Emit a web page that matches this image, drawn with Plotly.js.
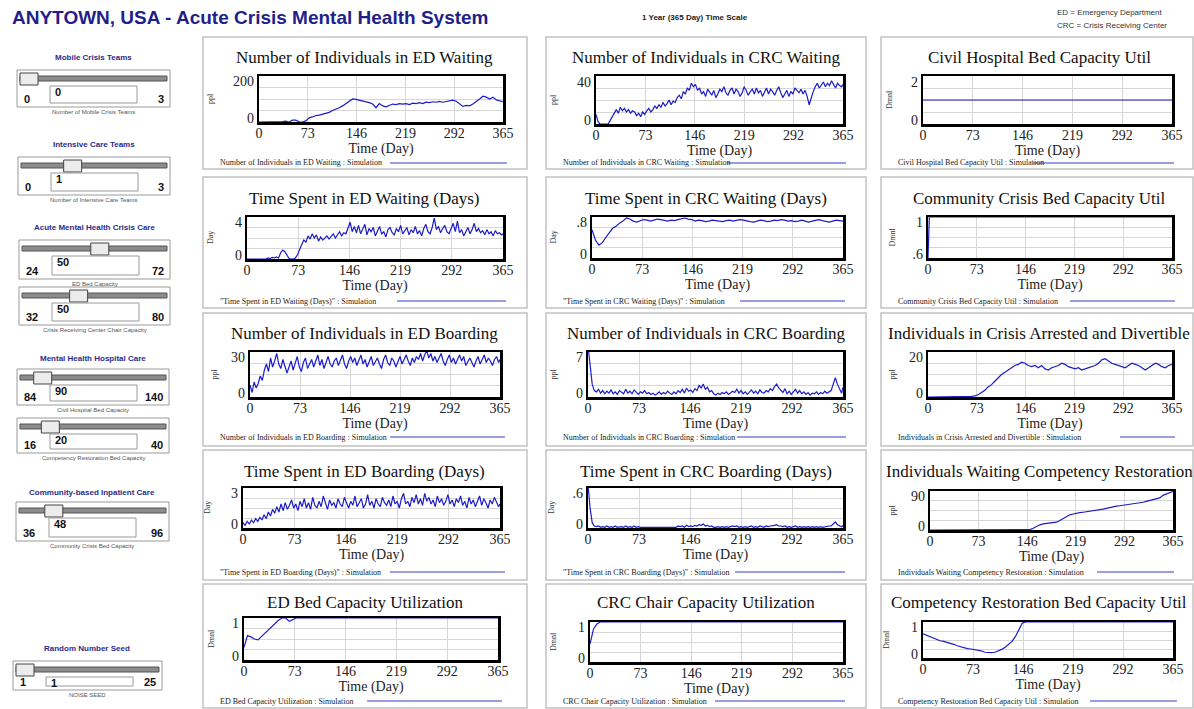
<!DOCTYPE html>
<html><head><meta charset="utf-8">
<script src="https://cdn.plot.ly/plotly-3.0.1.min.js"></script>
<style>html,body{margin:0;padding:0;background:#fff;}#chart{width:1194px;height:709px;}</style>
</head><body><div id="chart"></div>
<script>
// ================= DATA =================
const dayTicks = [0, 73, 146, 219, 292, 365];

// Number of Individuals in ED Waiting (every 5 days)
const edWaiting = [0,0,0,0,0,0,0,2,4,0,
 8,8,1,0,5,18,22,28,30,33,
 38,42,50,55,62,70,80,92,100,98,
 95,90,86,84,78,62,80,70,66,72,
 78,76,80,78,80,76,82,80,84,80,
 86,84,88,86,90,86,88,92,95,90,
 80,68,72,70,78,88,100,112,108,100,
 108,96,92,88];
// Number of Individuals in CRC Waiting (every 3 days)
const crcWaiting = [8,2,0,0,0,0,0,3,6,10,
 12,9,14,11,13,10,12,9,11,10,
 7,9,6,10,8,11,13,10,12,15,
 13,16,14,18,15,17,20,16,19,18,
 22,24,21,27,25,30,28,34,31,33,
 28,30,25,27,23,29,26,24,28,22,
 25,29,27,31,26,24,28,30,25,29,
 27,23,26,31,28,24,27,29,25,30,
 26,28,23,27,30,25,29,27,24,28,
 31,26,22,25,28,23,27,25,30,28,
 26,29,25,28,23,16,22,27,31,34,
 30,33,35,31,34,32,36,33,30,34,
 32,31,33];
// Civil Hospital Bed Capacity Util (every 5 days)
const civilUtil = [1,1,1,1,1,0.99,1,1,1,1,
 1,1,0.99,1,1,1,1,1,1,0.99,
 1,1,1,1,1,1,1,0.99,1,1,
 1,1,1,1,0.99,1,1,1,1,1,
 1,0.99,1,1,1,1,1,1,0.99,1,
 1,1,1,1,1,1,0.99,1,1,1,
 1,1,1,0.99,1,1,1,1,1,1,
 1,0.99,1,1];
// Time Spent in ED Waiting (Days) (every 3 days)
const edTimeWait = [0,0,0,0,0,0,0,0,0.05,0,
 0.1,0.05,0.15,0.1,0.2,0.1,0.6,0.85,0.7,0.3,
 0.05,0,0,0.1,0.4,0.9,1.4,1.8,1.6,2.2,
 1.9,2.4,2.0,2.3,1.7,2.1,1.8,2.0,2.2,1.9,
 2.1,2.4,2.0,2.3,2.6,2.2,2.5,2.4,2.9,3.5,
 2.6,3.1,2.5,3.2,2.4,2.8,3.3,2.3,2.9,2.6,
 3.0,2.2,2.7,3.1,2.4,2.6,2.1,2.8,3.0,2.5,
 2.3,2.9,2.6,3.2,2.4,2.7,3.0,2.3,2.8,2.5,
 3.1,2.4,2.7,2.2,2.9,3.3,2.6,2.4,3.0,3.9,
 2.8,3.1,2.5,2.9,3.2,2.6,2.4,2.9,3.4,2.6,
 3.6,2.5,2.8,2.2,2.6,3.0,2.4,2.8,3.4,2.6,
 2.9,2.5,2.7,2.3,2.8,2.4,2.6,2.2,2.7,2.4,
 2.5,2.3,2.4];
// Time Spent in CRC Waiting (Days) (every 5 days)
const crcTimeWait = [0.55,0.35,0.25,0.3,0.4,0.5,0.58,0.62,0.68,0.72,
 0.78,0.76,0.72,0.7,0.72,0.75,0.74,0.72,0.74,0.76,
 0.75,0.73,0.72,0.74,0.73,0.75,0.77,0.78,0.76,0.75,
 0.72,0.74,0.73,0.71,0.72,0.74,0.73,0.72,0.71,0.73,
 0.74,0.72,0.73,0.75,0.74,0.72,0.71,0.7,0.72,0.74,
 0.73,0.71,0.72,0.74,0.73,0.75,0.74,0.72,0.73,0.71,
 0.72,0.74,0.72,0.7,0.72,0.74,0.75,0.73,0.72,0.7,
 0.72,0.74,0.73,0.72];
// Community Crisis Bed Capacity Util
const commUtilDays = [0,1,2,73,146,219,292,365];
const commUtil = [0.6,0.9,1,1,1,1,1,1];
// Number of Individuals in ED Boarding (every 3 days)
const edBoarding = [8,3,10,6,9,14,11,18,22,17,
 26,20,24,29,22,19,25,21,16,20,
 24,18,22,27,20,17,23,26,19,22,
 25,20,24,28,21,25,19,23,27,22,
 20,24,26,21,25,28,22,19,24,27,
 23,26,21,24,28,22,25,20,23,27,
 21,24,26,22,19,25,28,23,21,26,
 24,20,23,27,22,25,28,24,21,26,
 23,27,25,29,24,28,31,26,29,24,
 27,23,26,29,24,21,25,28,23,26,
 22,25,28,24,27,21,24,26,23,20,
 24,27,22,25,28,23,26,24,21,25,
 27,23,25];
// Number of Individuals in CRC Boarding (every 3 days)
const crcBoarding = [8,5,2,1,0.8,1.2,0.6,1,0.5,0.9,
 0.6,1.1,0.5,0.8,0.4,1,0.7,0.5,1.2,0.6,
 0.9,0.5,1.1,0.7,0.4,0.8,0.6,1,0.5,0.7,
 0.4,0.6,0.3,0.5,0.8,0.4,0.7,0.5,0.9,0.6,
 0.4,0.8,0.5,1,0.7,1.2,0.6,1.4,0.9,1.1,
 0.7,1.3,1.0,1.8,1.4,2.0,1.2,1.5,0.8,1.0,
 0.5,0.3,0.6,0.4,0.7,0.5,0.8,0.4,0.6,0.9,
 0.7,1.2,0.6,1.0,0.5,0.8,0.4,0.7,1.1,0.6,
 0.9,0.5,1.1,0.7,0.6,1.0,0.8,1.3,1.0,1.6,
 2.0,1.4,1.1,0.7,1.3,0.5,0.9,0.4,0.8,1.2,
 0.6,1.0,0.5,0.8,0.4,0.7,0.3,0.6,0.5,0.8,
 0.4,0.7,0.5,0.9,0.6,0.8,1.0,2.0,3.0,2.0,
 1.2,0.6,1.5];
// Individuals in Crisis Arrested and Divertible (every 5 days)
const arrested = [0,0,0,0,0,0,0,0,0,0,
 0,0,0,0.3,0.5,1,2,3,4.5,5.5,
 7,8.5,10,11,12,13,14,14.5,15.5,15,
 14,13.5,14,13,14,12.5,12,13,13.5,14,
 15,14.5,13.5,13,12.5,13,12,12.5,13,13.5,
 14,15,16.5,17,16,15,14.5,14,13.5,13,
 14,15,14.5,14,13,12,13,14,15,14.5,
 13.5,13,14,14.5];
// Time Spent in ED Boarding (Days) (every 3 days)
const edTimeBoard = [0.4,0.2,0.5,0.3,0.6,0.4,0.7,0.5,0.8,0.6,
 1.0,0.7,1.2,0.9,1.4,1.1,1.6,1.2,1.8,1.3,
 1.9,1.4,1.7,2.1,1.5,1.8,1.3,2.0,1.6,2.2,
 1.5,1.9,1.4,2.3,1.7,1.5,2.0,1.6,2.4,1.8,
 1.4,2.1,1.7,1.9,1.5,2.2,1.8,1.6,2.3,1.9,
 1.5,2.0,1.7,2.4,1.6,1.9,2.2,1.5,1.8,2.5,
 1.7,2.0,1.5,2.2,1.8,1.6,2.3,1.9,1.7,2.1,
 1.6,2.4,1.8,2.0,1.5,2.2,2.6,1.8,2.0,1.6,
 2.3,1.9,2.5,1.8,2.2,1.7,2.6,2.0,2.3,1.8,
 2.1,1.6,2.4,1.9,2.2,1.7,2.0,2.5,1.8,2.1,
 1.6,2.2,1.9,2.4,1.7,2.0,1.5,2.3,1.8,2.1,
 1.6,2.0,2.4,1.7,2.2,1.9,1.5,2.1,1.8,2.3,
 1.9,1.6,1.8];
// Time Spent in CRC Boarding (Days) (every 3 days)
const crcTimeBoard = [0.65,0.3,0.08,0.03,0.02,0.03,0.01,0.02,0.01,0.03,
 0.01,0.02,0.01,0.03,0.01,0.02,0.02,0.01,0.03,0.01,
 0.02,0.01,0.03,0.01,0.02,0.01,0.01,0.02,0.01,0.02,
 0.01,0.02,0.01,0.01,0.02,0.01,0.02,0.01,0.01,0.02,
 0.01,0.02,0.01,0.03,0.02,0.03,0.01,0.04,0.02,0.03,
 0.02,0.04,0.03,0.05,0.04,0.06,0.03,0.04,0.02,0.03,
 0.01,0.01,0.02,0.01,0.02,0.01,0.02,0.01,0.02,0.03,
 0.02,0.03,0.01,0.02,0.01,0.02,0.01,0.02,0.03,0.01,
 0.02,0.01,0.03,0.02,0.01,0.03,0.02,0.03,0.03,0.04,
 0.05,0.03,0.03,0.02,0.03,0.01,0.02,0.01,0.02,0.03,
 0.01,0.02,0.01,0.02,0.01,0.02,0.01,0.02,0.01,0.02,
 0.01,0.02,0.01,0.02,0.02,0.03,0.03,0.06,0.09,0.05,
 0.03,0.02,0.04];
// Individuals Waiting Competency Restoration (every 5 days)
const waitingCR = [0,0,0,0,0,0,0,0,0,0,
 0,0,0,0,0,0,0,0,0,0,
 0,0,0,0,0,0,0,0,0,0,
 1,4,8,12,14,15,15,16,18,22,
 27,32,35,37,39,40,41,42,43,45,
 46,47,48,50,52,53,55,56,57,58,
 59,60,61,62,64,66,68,70,72,74,
 80,83,86,89];
// ED Bed Capacity Utilization (every 5 days)
const edBedUtil = [0.3,0.58,0.55,0.5,0.48,0.56,0.62,0.7,0.8,0.88,
 0.95,1,1,0.92,0.97,1,1,1,0.99,1,
 1,1,1,0.99,1,1,1,1,0.99,1,
 1,1,1,1,0.99,1,1,1,1,1,
 0.99,1,1,1,1,0.99,1,1,1,1,
 1,1,0.99,1,1,1,1,1,1,0.99,
 1,1,1,1,1,0.99,1,1,1,1,
 0.99,1,1,1];
// CRC Chair Capacity Utilization (every 5 days)
const crcChairUtil = [0.45,0.82,0.95,1,1,1,0.99,1,1,1,
 1,1,0.99,1,1,1,1,1,0.99,1,
 1,1,1,1,1,0.99,1,1,1,1,
 1,1,0.99,1,1,1,1,1,1,0.99,
 1,1,1,1,0.99,1,1,1,1,1,
 1,0.99,1,1,1,1,1,1,0.99,1,
 1,1,1,1,1,0.99,1,1,1,1,
 1,1,0.99,1];
// Competency Restoration Bed Capacity Util (every 5 days)
const crBedUtil = [0.67,0.63,0.58,0.54,0.5,0.48,0.46,0.44,0.42,0.38,
 0.34,0.31,0.28,0.26,0.25,0.24,0.23,0.2,0.16,0.15,
 0.15,0.16,0.19,0.24,0.3,0.38,0.46,0.6,0.8,0.97,
 1,1,1,1,1,1,1,1,1,1,
 1,1,1,1,1,1,1,1,1,1,
 1,1,1,1,1,1,1,1,1,1,
 1,1,1,1,1,1,1,1,1,1,
 1,1,1,1];

// Slider controls
const sliderTitles = ['Mobile Crisis Teams','Intensive Care Teams','Acute Mental Health Crisis Care','','Mental Health Hospital Care','','Community-based Inpatient Care','Random Number Seed'];
const sliderLabels = ['Number of Mobile Crisis Teams','Number of Intensive Care Teams','ED Bed Capacity','Crisis Receiving Center Chair Capacity','Civil Hospital Bed Capacity','Competency Restoration Bed Capacity','Community Crisis Bed Capacity','NOISE SEED'];
const sliderValues = [0,1,50,50,90,20,48,1];
const sliderMins = [0,0,24,32,84,16,36,1];
const sliderMaxs = [3,3,72,80,140,40,96,25];

// ================= LAYOUT =================
const W = 1194, H = 709;
const X = v => v / W, Y = v => 1 - v / H;
const SERIF = '"Liberation Serif", "Times New Roman", serif';
const SANS = '"Liberation Sans", Arial, sans-serif';
const LINE = '#1c1cc8';
const days = (arr, step) => arr.map((_, i) => Math.min(i * step, 365));

const charts = [
 {t:'Number of Individuals in ED Waiting', leg:'Number of Individuals in ED Waiting : Simulation', u:'ppl', x:days(edWaiting,5), y:edWaiting, r:[0,200], lab:['0','200'], p:[259,76,503,122], ytx:210, ll:[390,507]},
 {t:'Number of Individuals in CRC Waiting', leg:'Number of Individuals in CRC Waiting : Simulation', u:'ppl', x:days(crcWaiting,3), y:crcWaiting, r:[0,40], lab:['0','40'], p:[596,76,843,124], ytx:553, ll:[727,846]},
 {t:'Civil Hospital Bed Capacity Util', leg:'Civil Hospital Bed Capacity Util : Simulation', u:'Dmnl', x:days(civilUtil,5), y:civilUtil, r:[0,2], lab:['0','2'], p:[923,76,1172,124], ytx:889, ll:[1033,1174]},
 {t:'Time Spent in ED Waiting (Days)', leg:'"Time Spent in ED Waiting (Days)" : Simulation', u:'Day', x:days(edTimeWait,3), y:edTimeWait, r:[0,4], lab:['0','4'], p:[247,217,503,259], ytx:211, ll:[397,506]},
 {t:'Time Spent in CRC Waiting (Days)', leg:'"Time Spent in CRC Waiting (Days)" : Simulation', u:'Day', x:days(crcTimeWait,5), y:crcTimeWait, r:[0,0.8], lab:['0','.8'], p:[592,217,843,258], ytx:553, ll:[740,845]},
 {t:'Community Crisis Bed Capacity Util', leg:'Community Crisis Bed Capacity Util : Simulation', u:'Dmnl', x:commUtilDays, y:commUtil, r:[0.6,1], lab:['.6','1'], p:[928,217,1172,258], ytx:892, ll:[1070,1175]},
 {t:'Number of Individuals in ED Boarding', leg:'Number of Individuals in ED Boarding : Simulation', u:'ppl', x:days(edBoarding,3), y:edBoarding, r:[0,30], lab:['0','30'], p:[250,352,500,397], ytx:214, ll:[390,505]},
 {t:'Number of Individuals in CRC Boarding', leg:'Number of Individuals in CRC Boarding : Simulation', u:'ppl', x:days(crcBoarding,3), y:crcBoarding, r:[0,7], lab:['0','7'], p:[588,352,843,397], ytx:553, ll:[737,846]},
 {t:'Individuals in Crisis Arrested and Divertible', leg:'Individuals in Crisis Arrested and Divertible : Simulation', u:'ppl', x:days(arrested,5), y:arrested, r:[0,20], lab:['0','20'], p:[928,352,1172,397], ytx:892, ll:[1120,1175]},
 {t:'Time Spent in ED Boarding (Days)', leg:'"Time Spent in ED Boarding (Days)" : Simulation', u:'Day', x:days(edTimeBoard,3), y:edTimeBoard, r:[0,3], lab:['0','3'], p:[243,488,500,528], ytx:207, ll:[390,505]},
 {t:'Time Spent in CRC Boarding (Days)', leg:'"Time Spent in CRC Boarding (Days)" : Simulation', u:'Day', x:days(crcTimeBoard,3), y:crcTimeBoard, r:[0,0.6], lab:['0','.6'], p:[588,488,843,528], ytx:551, ll:[735,845]},
 {t:'Individuals Waiting Competency Restoration', leg:'Individuals Waiting Competency Restoration : Simulation', u:'ppl', x:days(waitingCR,5), y:waitingCR, r:[0,90], lab:['0','90'], p:[930,491,1173,530], ytx:892, ll:[1097,1174]},
 {t:'ED Bed Capacity Utilization', leg:'ED Bed Capacity Utilization : Simulation', u:'Dmnl', x:days(edBedUtil,5), y:edBedUtil, r:[0,1], lab:['0','1'], p:[244,618,498,660], ytx:211, ll:[367,502]},
 {t:'CRC Chair Capacity Utilization', leg:'CRC Chair Capacity Utilization : Simulation', u:'Dmnl', x:days(crcChairUtil,5), y:crcChairUtil, r:[0,1], lab:['0','1'], p:[590,622,843,662], ytx:553, ll:[715,845]},
 {t:'Competency Restoration Bed Capacity Util', leg:'Competency Restoration Bed Capacity Util : Simulation', u:'Dmnl', x:days(crBedUtil,5), y:crBedUtil, r:[0,1], lab:['0','1'], p:[923,622,1173,658], ytx:886, ll:[1090,1177]}
];
const colX = [[203,527],[546,866],[881,1193]];
const rowY = [[37,169],[177,308],[313,446],[450,580],[584,708]];
const titleY = [58,198,334,471,602];
const legendY = [163,301,437,572,701];
const titleX = [365,706,1039];
const legendX = [218,561,896];

const traces = [];
const layout = {
  width: W, height: H, margin: {l:0,r:0,t:0,b:0},
  paper_bgcolor: '#fff', plot_bgcolor: '#fff', showlegend: false,
  shapes: [], annotations: []
};
const ann = (x, y, text, o) => layout.annotations.push(Object.assign({
  xref:'paper', yref:'paper', x:X(x), y:Y(y), text, showarrow:false,
  xanchor:'center', yanchor:'middle', font:{family:SANS, size:8, color:'#222'}
}, o || {}));
const rect = (x0, y0, x1, y1, o) => layout.shapes.push(Object.assign({
  type:'rect', xref:'paper', yref:'paper', x0:X(x0), x1:X(x1), y0:Y(y1), y1:Y(y0),
  line:{color:'#999', width:1}, fillcolor:'#fff', layer:'below'
}, o || {}));

charts.forEach((c, i) => {
  const k = i === 0 ? '' : String(i + 1);
  const col = i % 3, row = Math.floor(i / 3);
  const [x0, y0, x1, y1] = c.p;
  rect(colX[col][0], rowY[row][0], colX[col][1], rowY[row][1], {line:{color:'#c2c2c2', width:1.5}});
  const q = (c.r[1] - c.r[0]) / 4;
  layout['xaxis' + k] = {
    domain:[X(x0), X(x1)], anchor:'y' + k, range:[0, 365], tickvals:dayTicks,
    showgrid:true, gridcolor:'#d6d6d6', gridwidth:1, zeroline:false,
    showline:true, mirror:true, linecolor:'#000', linewidth:2.5, ticks:'',
    ticklabelstandoff:-3,
    tickfont:{family:SERIF, size:14, color:'#222'},
    title:{text:'Time (Day)', font:{family:SERIF, size:14, color:'#222'}, standoff:0},
    fixedrange:true
  };
  layout['yaxis' + k] = {
    domain:[Y(y1), Y(y0)], anchor:'x' + k, range:c.r,
    tickvals:[c.r[0], c.r[0] + q, c.r[0] + 2*q, c.r[0] + 3*q, c.r[1]],
    showticklabels:false,
    showgrid:true, gridcolor:'#d6d6d6', gridwidth:1, zeroline:false,
    showline:true, mirror:true, linecolor:'#000', linewidth:2.5, ticks:'',
    fixedrange:true
  };
  // label axis overlaid on the same plot area (labels sit slightly inside the frame, as in the original)
  const u = (c.r[1] - c.r[0]) / (y1 - y0);
  const lk = String(16 + i);
  layout['yaxis' + lk] = {
    overlaying:'y' + k, anchor:'x' + k, side:'left',
    range:[c.r[0] - 5 * u, c.r[1] + 7 * u],
    tickvals:[c.r[0], c.r[1]], ticktext:c.lab,
    showgrid:false, zeroline:false, showline:false, ticks:'',
    ticklabelstandoff:4,
    tickfont:{family:SERIF, size:14, color:'#222'}, fixedrange:true
  };
  traces.push({type:'scatter', mode:'lines', x:c.x, y:c.y, xaxis:'x' + k, yaxis:'y' + k,
    line:{color:LINE, width:1.2}, hoverinfo:'skip'});
  // empty carrier so that the label axis is rendered (draws nothing)
  traces.push({type:'scatter', mode:'lines', x:[0], y:[null], xaxis:'x' + k, yaxis:'y' + lk,
    line:{color:'rgba(0,0,0,0)', width:0}, hoverinfo:'skip'});
  ann(titleX[col], titleY[row], c.t, {font:{family:SERIF, size:17, color:'#111'}});
  ann(c.ytx, (y0 + y1) / 2, c.u, {textangle:-90, font:{family:SERIF, size:8, color:'#333'}});
  ann(legendX[col], legendY[row], c.leg, {xanchor:'left', font:{family:SERIF, size:8, color:'#222'}});
  layout.shapes.push({type:'line', xref:'paper', yref:'paper', x0:X(c.ll[0]), x1:X(c.ll[1]),
    y0:Y(legendY[row]), y1:Y(legendY[row]), line:{color:'#3a3ac8', width:1}});
});

// header texts
ann(10, 18, '<b>ANYTOWN, USA - Acute Crisis Mental Health System</b>', {xanchor:'left', font:{family:SANS, size:19, color:'#1f1f8a'}});
ann(695, 18, '<b>1 Year (365 Day) Time Scale</b>', {font:{family:SANS, size:8, color:'#222'}});
ann(1055, 13, 'ED = Emergency Department', {xanchor:'left', font:{family:SANS, size:8, color:'#333'}});
ann(1055, 26, 'CRC = Crisis Receiving Center', {xanchor:'left', font:{family:SANS, size:8, color:'#333'}});

// sliders
const sliderBoxes = [[17,70,170,107],[18,157,170,195],[19,240,170,279],[19,287,170,325],[17,369,169,405],[17,418,169,453],[16,502,169,541],[13,661,162,690]];
const sliderHeadY = [58,144,228,0,358,0,492,648];
sliderBoxes.forEach((b, i) => {
  const [bx0, by0, bx1, by1] = b;
  const cx = (bx0 + bx1) / 2;
  if (sliderTitles[i]) ann(cx, sliderHeadY[i], '<b>' + sliderTitles[i] + '</b>', {font:{family:SANS, size:8, color:'#2b2b8a'}});
  rect(bx0, by0, bx1, by1, {line:{color:'#9a9a9a', width:1}, layer:'above'});
  const tx0 = bx0 + 3, tx1 = bx1 - 3;
  rect(tx0, by0 + 6, tx1, by0 + 11, {fillcolor:'#8c8c8c', line:{color:'#555', width:1}, layer:'above'});
  const f = (sliderValues[i] - sliderMins[i]) / (sliderMaxs[i] - sliderMins[i]);
  const th = tx0 + f * (tx1 - tx0 - 18);
  rect(th, by0 + 3, th + 18, by0 + 15, {fillcolor:'#ececec', line:{color:'#444', width:1}, layer:'above'});
  rect(bx0 + 33, by0 + 16, bx0 + 120, by1 - 4, {fillcolor:'#fff', line:{color:'#9a9a9a', width:1}, layer:'above'});
  ann(bx0 + 36, by0 + 22, '<b>' + sliderValues[i] + '</b>', {xanchor:'left', font:{family:SANS, size:11, color:'#111'}});
  ann(bx0 + 5, by1 - 8, '<b>' + sliderMins[i] + '</b>', {xanchor:'left', font:{family:SANS, size:11, color:'#111'}});
  ann(bx1 - 4, by1 - 8, '<b>' + sliderMaxs[i] + '</b>', {xanchor:'right', font:{family:SANS, size:11, color:'#111'}});
  ann(cx, by1 + 5, sliderLabels[i], {font:{family:SANS, size:6, color:'#555'}});
});

Plotly.newPlot('chart', traces, layout, {displayModeBar:false, staticPlot:true});
</script>
</body></html>
